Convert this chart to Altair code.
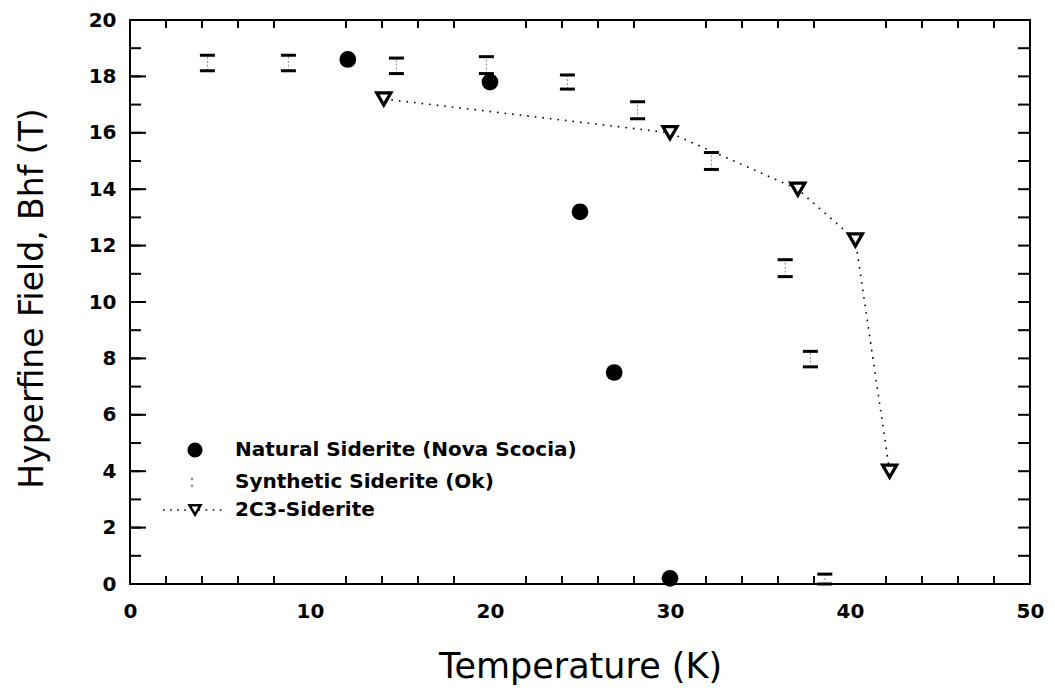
import altair as alt
import pandas as pd

# ---- data ----
nat_T = [12.1, 20.0, 25.0, 26.9, 30.0]
nat_B = [18.6, 17.8, 13.2, 7.5, 0.2]

syn_T = [4.3, 8.8, 14.8, 19.8, 24.3, 28.2, 32.3, 36.4, 37.8, 38.6]
syn_lo = [18.2, 18.2, 18.1, 18.1, 17.55, 16.5, 14.7, 10.9, 7.7, 0.0]
syn_hi = [18.75, 18.75, 18.65, 18.7, 18.05, 17.1, 15.3, 11.5, 8.25, 0.35]

c3_T = [14.1, 30.0, 37.1, 40.3, 42.2]
c3_B = [17.2, 16.0, 14.0, 12.2, 4.0]

x_label_values = [0, 10, 20, 30, 40, 50]
y_label_values = [0, 2, 4, 6, 8, 10, 12, 14, 16, 18, 20]
x_tick_values = [2, 4, 6, 8, 12, 14, 16, 18, 22, 24, 26, 28, 32, 34, 36, 38, 42, 44, 46, 48]
y_tick_values = list(range(1, 20))
y_major_ticks = [2, 4, 6, 8, 10, 12, 14, 16, 18]

legend_labels = ["Natural Siderite (Nova Scocia)", "Synthetic Siderite (Ok)", "2C3-Siderite"]

x_title = "Temperature (K)"
y_title = "Hyperfine Field, Bhf (T)"

# ---- layout ----
W, H = 900, 564
FONT = "DejaVu Sans"

nat = pd.DataFrame({"T": nat_T, "B": nat_B})
syn = pd.DataFrame({"T": syn_T, "lo": syn_lo, "hi": syn_hi})
c3 = pd.DataFrame({"T": c3_T, "B": c3_B})
xt = pd.DataFrame({"T": x_tick_values})
yt = pd.DataFrame({"B": y_tick_values})
ytm = pd.DataFrame({"B": y_major_ticks})

xs = alt.Scale(domain=[0, 50], nice=False, zero=False)
ys = alt.Scale(domain=[0, 20], nice=False, zero=False)

xaxis = alt.Axis(values=x_label_values, title=x_title, ticks=False, domain=False, grid=False,
                 labelFont=FONT, labelFontWeight="bold", labelFontSize=20, labelPadding=17,
                 labelColor="black", titleFont=FONT, titleFontWeight="normal", titleFontSize=35,
                 titleColor="black", titleX=450, titleY=82, titleAlign="center",
                 titleBaseline="middle", labelFlush=False)
yaxis = alt.Axis(values=y_label_values, title=y_title, ticks=False, domain=False, grid=False,
                 labelFont=FONT, labelFontWeight="bold", labelFontSize=20, labelPadding=14,
                 labelColor="black", titleFont=FONT, titleFontWeight="normal", titleFontSize=33,
                 titleColor="black", titleAngle=270, titleX=-98, titleY=278,
                 titleAlign="center", titleBaseline="middle", labelFlush=False)


def X(f):
    return alt.X(f, type="quantitative", scale=xs, axis=xaxis)


def Y(f):
    return alt.Y(f, type="quantitative", scale=ys, axis=yaxis)


layers = []

# inward ticks on the frame
layers.append(alt.Chart(yt).mark_rule(color="black", strokeWidth=2).encode(
    y=Y("B"), x=alt.value(0), x2=alt.value(11)))
layers.append(alt.Chart(ytm).mark_rule(color="black", strokeWidth=2).encode(
    y=Y("B"), x=alt.value(0), x2=alt.value(16)))
layers.append(alt.Chart(yt).mark_rule(color="black", strokeWidth=2).encode(
    y=Y("B"), x=alt.value(W - 12), x2=alt.value(W)))
layers.append(alt.Chart(xt).mark_rule(color="black", strokeWidth=2).encode(
    x=X("T"), y=alt.value(H - 8), y2=alt.value(H)))
layers.append(alt.Chart(xt).mark_rule(color="black", strokeWidth=2).encode(
    x=X("T"), y=alt.value(0), y2=alt.value(8)))

# synthetic siderite: I-beam error bars
layers.append(alt.Chart(syn).mark_rule(color="#888888", strokeWidth=1, strokeDash=[2, 2]).encode(
    x=X("T"), y=Y("lo"), y2="hi"))
layers.append(alt.Chart(syn).mark_tick(orient="horizontal", color="black", size=15, thickness=3,
                                       opacity=1).encode(x=X("T"), y=Y("hi")))
layers.append(alt.Chart(syn).mark_tick(orient="horizontal", color="black", size=15, thickness=3,
                                       opacity=1).encode(x=X("T"), y=Y("lo")))

# 2C3 dotted line and triangles
layers.append(alt.Chart(c3).mark_line(color="black", strokeWidth=1.6, strokeDash=[1.6, 6]).encode(
    x=X("T"), y=Y("B")))
layers.append(alt.Chart(c3).mark_point(shape="triangle-down", filled=True, fill="white",
                                       stroke="black", strokeWidth=3.2, size=200, opacity=1).encode(
    x=X("T"), y=Y("B")))

# natural siderite filled circles
layers.append(alt.Chart(nat).mark_point(shape="circle", filled=True, color="black", size=280,
                                        opacity=1).encode(x=X("T"), y=Y("B")))

# ---- hand-made legend ----
leg = pd.DataFrame({"label": legend_labels})
row_y = [430, 462, 490]
sym_x = 65
txt_x = 105

for i, lab in enumerate(legend_labels):
    layers.append(alt.Chart(leg).transform_filter(alt.datum.label == lab).mark_text(
        align="left", baseline="middle", font=FONT, fontWeight="bold", fontSize=20,
        color="black").encode(text="label:N", x=alt.value(txt_x), y=alt.value(row_y[i])))

layers.append(alt.Chart(leg).transform_filter(alt.datum.label == legend_labels[0]).mark_point(
    shape="circle", filled=True, color="black", size=230, opacity=1).encode(
    x=alt.value(sym_x), y=alt.value(row_y[0])))
layers.append(alt.Chart(leg).transform_filter(alt.datum.label == legend_labels[1]).mark_point(
    shape="circle", filled=True, color="#999999", size=8, opacity=1).encode(
    x=alt.value(sym_x - 3), y=alt.value(row_y[1] - 3)))
layers.append(alt.Chart(leg).transform_filter(alt.datum.label == legend_labels[1]).mark_point(
    shape="circle", filled=True, color="#999999", size=8, opacity=1).encode(
    x=alt.value(sym_x - 3), y=alt.value(row_y[1] + 4)))
layers.append(alt.Chart(leg).transform_filter(alt.datum.label == legend_labels[2]).mark_rule(
    color="black", strokeWidth=1.6, strokeDash=[1.6, 5.5]).encode(
    x=alt.value(33), x2=alt.value(95), y=alt.value(row_y[2])))
layers.append(alt.Chart(leg).transform_filter(alt.datum.label == legend_labels[2]).mark_point(
    shape="triangle-down", filled=True, fill="white", stroke="black", strokeWidth=2.5, size=120,
    opacity=1).encode(x=alt.value(sym_x), y=alt.value(row_y[2])))

chart = alt.layer(*layers).properties(
    width=W, height=H,
    autosize=alt.AutoSizeParams(type="none"),
    padding={"left": 130, "top": 20, "right": 25, "bottom": 108},
    background="white",
).configure_view(stroke="black", strokeWidth=2)

chart.save("out.html", embed_options={"renderer": "svg", "actions": False})
